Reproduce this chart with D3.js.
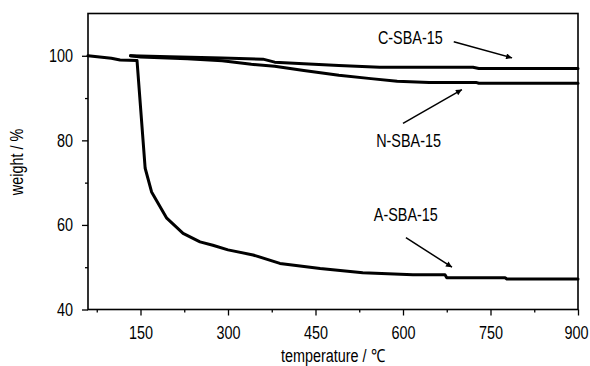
<!DOCTYPE html>
<html>
<head>
<meta charset="utf-8">
<script src="https://cdn.jsdelivr.net/npm/d3@7"></script>
<style>
  body { margin: 0; background: #fff; }
  svg text { font-family: "Liberation Sans Narrow", "Liberation Sans", Arial, sans-serif; fill: #000; }
</style>
</head>
<body>
<div class="js-chart"></div>
<script>
'use strict';

// temperature (C) / weight (%)
var cSba = [[133,100],[200,99.8],[290,99.5],[360,99.2],[380,98.5],[430,98.1],[490,97.7],
    [560,97.3],[720,97.3],[730,97.0],[900,97.0]];
var nSba = [[133,100],[150,99.7],[230,99.3],[290,98.8],[340,98.0],[380,97.5],[430,96.5],
    [490,95.4],[545,94.6],[590,94.0],[645,93.7],[725,93.7],[730,93.5],[900,93.5]];
var aSba = [[60,100],[100,99.4],[115,99.0],[144,98.9],[158,73.4],[169,67.8],[195,61.6],
    [223,58.0],[252,56.0],[274,55.2],[300,54.1],[343,52.9],[389,50.9],[458,49.7],
    [531,48.7],[617,48.2],[672,48.2],[675,47.5],[775,47.5],[778,47.2],[900,47.2]];

var xTicks = [150, 300, 450, 600, 750, 900];
var xMinor = [75, 225, 375, 525, 675, 825];
var yTicks = [40, 60, 80, 100];
var yMinor = [50, 70, 90];

// label position + arrow (from, to) in data units
var notes = [
    {text: 'C-SBA-15', at: [557, 102.8], from: [687, 103.3], to: [787, 99.5]},
    {text: 'N-SBA-15', at: [554, 78.4], from: [600, 84], to: [701, 92]},
    {text: 'A-SBA-15', at: [550, 61], from: [605, 57], to: [684, 50]}
];

var W = 590, H = 366;
var m = {l: 88, r: 12, t: 13.5, b: 56.5};

var svg = d3.select('.js-chart').append('svg')
    .attr('width', W)
    .attr('height', H);

var x = d3.scaleLinear().domain([60, 900]).range([m.l, W - m.r]);
var y = d3.scaleLinear().domain([40, 110]).range([H - m.b, m.t]);

//the original uses a narrow font, squeeze texts horizontally
function narrow(sel) {
    sel.each(function () {
        var len = this.getComputedTextLength();
        if (len > 0) {
            d3.select(this)
                .attr('textLength', len * 0.8)
                .attr('lengthAdjust', 'spacingAndGlyphs');
        }
    });
}

function axisStyle(g) {
    g.select('.domain').remove();
    g.selectAll('line').attr('stroke', '#000').attr('stroke-width', 1.3);
    g.selectAll('text').style('font-size', '18px').call(narrow);
}

//minor ticks first, major ticks on top
svg.append('g')
    .attr('transform', 'translate(0,' + (H - m.b) + ')')
    .call(d3.axisBottom(x).tickValues(xMinor).tickSize(3).tickFormat(''))
    .call(axisStyle);
var xAxis = svg.append('g')
    .attr('transform', 'translate(0,' + (H - m.b) + ')')
    .call(d3.axisBottom(x).tickValues(xTicks).tickSize(6).tickPadding(11).tickFormat(d3.format('d')))
    .call(axisStyle);

//last label sits on the page edge, nudge it in a bit
xAxis.selectAll('.tick text')
    .filter(function (d) { return d === 900; })
    .attr('dx', -2);

svg.append('g')
    .attr('transform', 'translate(' + m.l + ',0)')
    .call(d3.axisLeft(y).tickValues(yMinor).tickSize(3).tickFormat(''))
    .call(axisStyle);
svg.append('g')
    .attr('transform', 'translate(' + m.l + ',0)')
    .call(d3.axisLeft(y).tickValues(yTicks).tickSize(6).tickPadding(9).tickFormat(d3.format('d')))
    .call(axisStyle);

//frame
svg.append('rect')
    .attr('x', m.l)
    .attr('y', m.t)
    .attr('width', W - m.r - m.l)
    .attr('height', H - m.b - m.t)
    .style('fill', 'none')
    .style('stroke', '#000')
    .style('stroke-width', 1.6);

//curves
var line = d3.line()
    .x(function (d) { return x(d[0]); })
    .y(function (d) { return y(d[1]); });

[aSba, nSba, cSba].forEach(function (s) {
    svg.append('path')
        .datum(s)
        .attr('d', line)
        .style('fill', 'none')
        .style('stroke', '#000')
        .style('stroke-width', 3)
        .style('stroke-linejoin', 'round')
        .style('stroke-linecap', 'round');
});

//annotations
svg.append('defs').append('marker')
    .attr('id', 'head')
    .attr('viewBox', '0 0 10 10')
    .attr('refX', 10)
    .attr('refY', 5)
    .attr('markerWidth', 9)
    .attr('markerHeight', 6)
    .attr('markerUnits', 'userSpaceOnUse')
    .attr('orient', 'auto')
    .append('path')
    .attr('d', 'M0,0 L10,5 L0,10 z')
    .style('fill', '#000');

notes.forEach(function (n) {
    svg.append('text')
        .attr('x', x(n.at[0]))
        .attr('y', y(n.at[1]))
        .style('font-size', '18px')
        .text(n.text)
        .call(narrow);
    svg.append('line')
        .attr('x1', x(n.from[0]))
        .attr('y1', y(n.from[1]))
        .attr('x2', x(n.to[0]))
        .attr('y2', y(n.to[1]))
        .style('stroke', '#000')
        .style('stroke-width', 1.5)
        .attr('marker-end', 'url(#head)');
});

//axis titles
svg.append('text')
    .attr('x', (m.l + W - m.r) / 2)
    .attr('y', 362)
    .attr('text-anchor', 'middle')
    .style('font-size', '18px')
    .text('temperature / \u2103')
    .call(narrow);

svg.append('text')
    .attr('transform', 'translate(23,162) rotate(-90)')
    .attr('text-anchor', 'middle')
    .style('font-size', '18px')
    .text('weight / %')
    .call(narrow);
</script>
</body>
</html>
